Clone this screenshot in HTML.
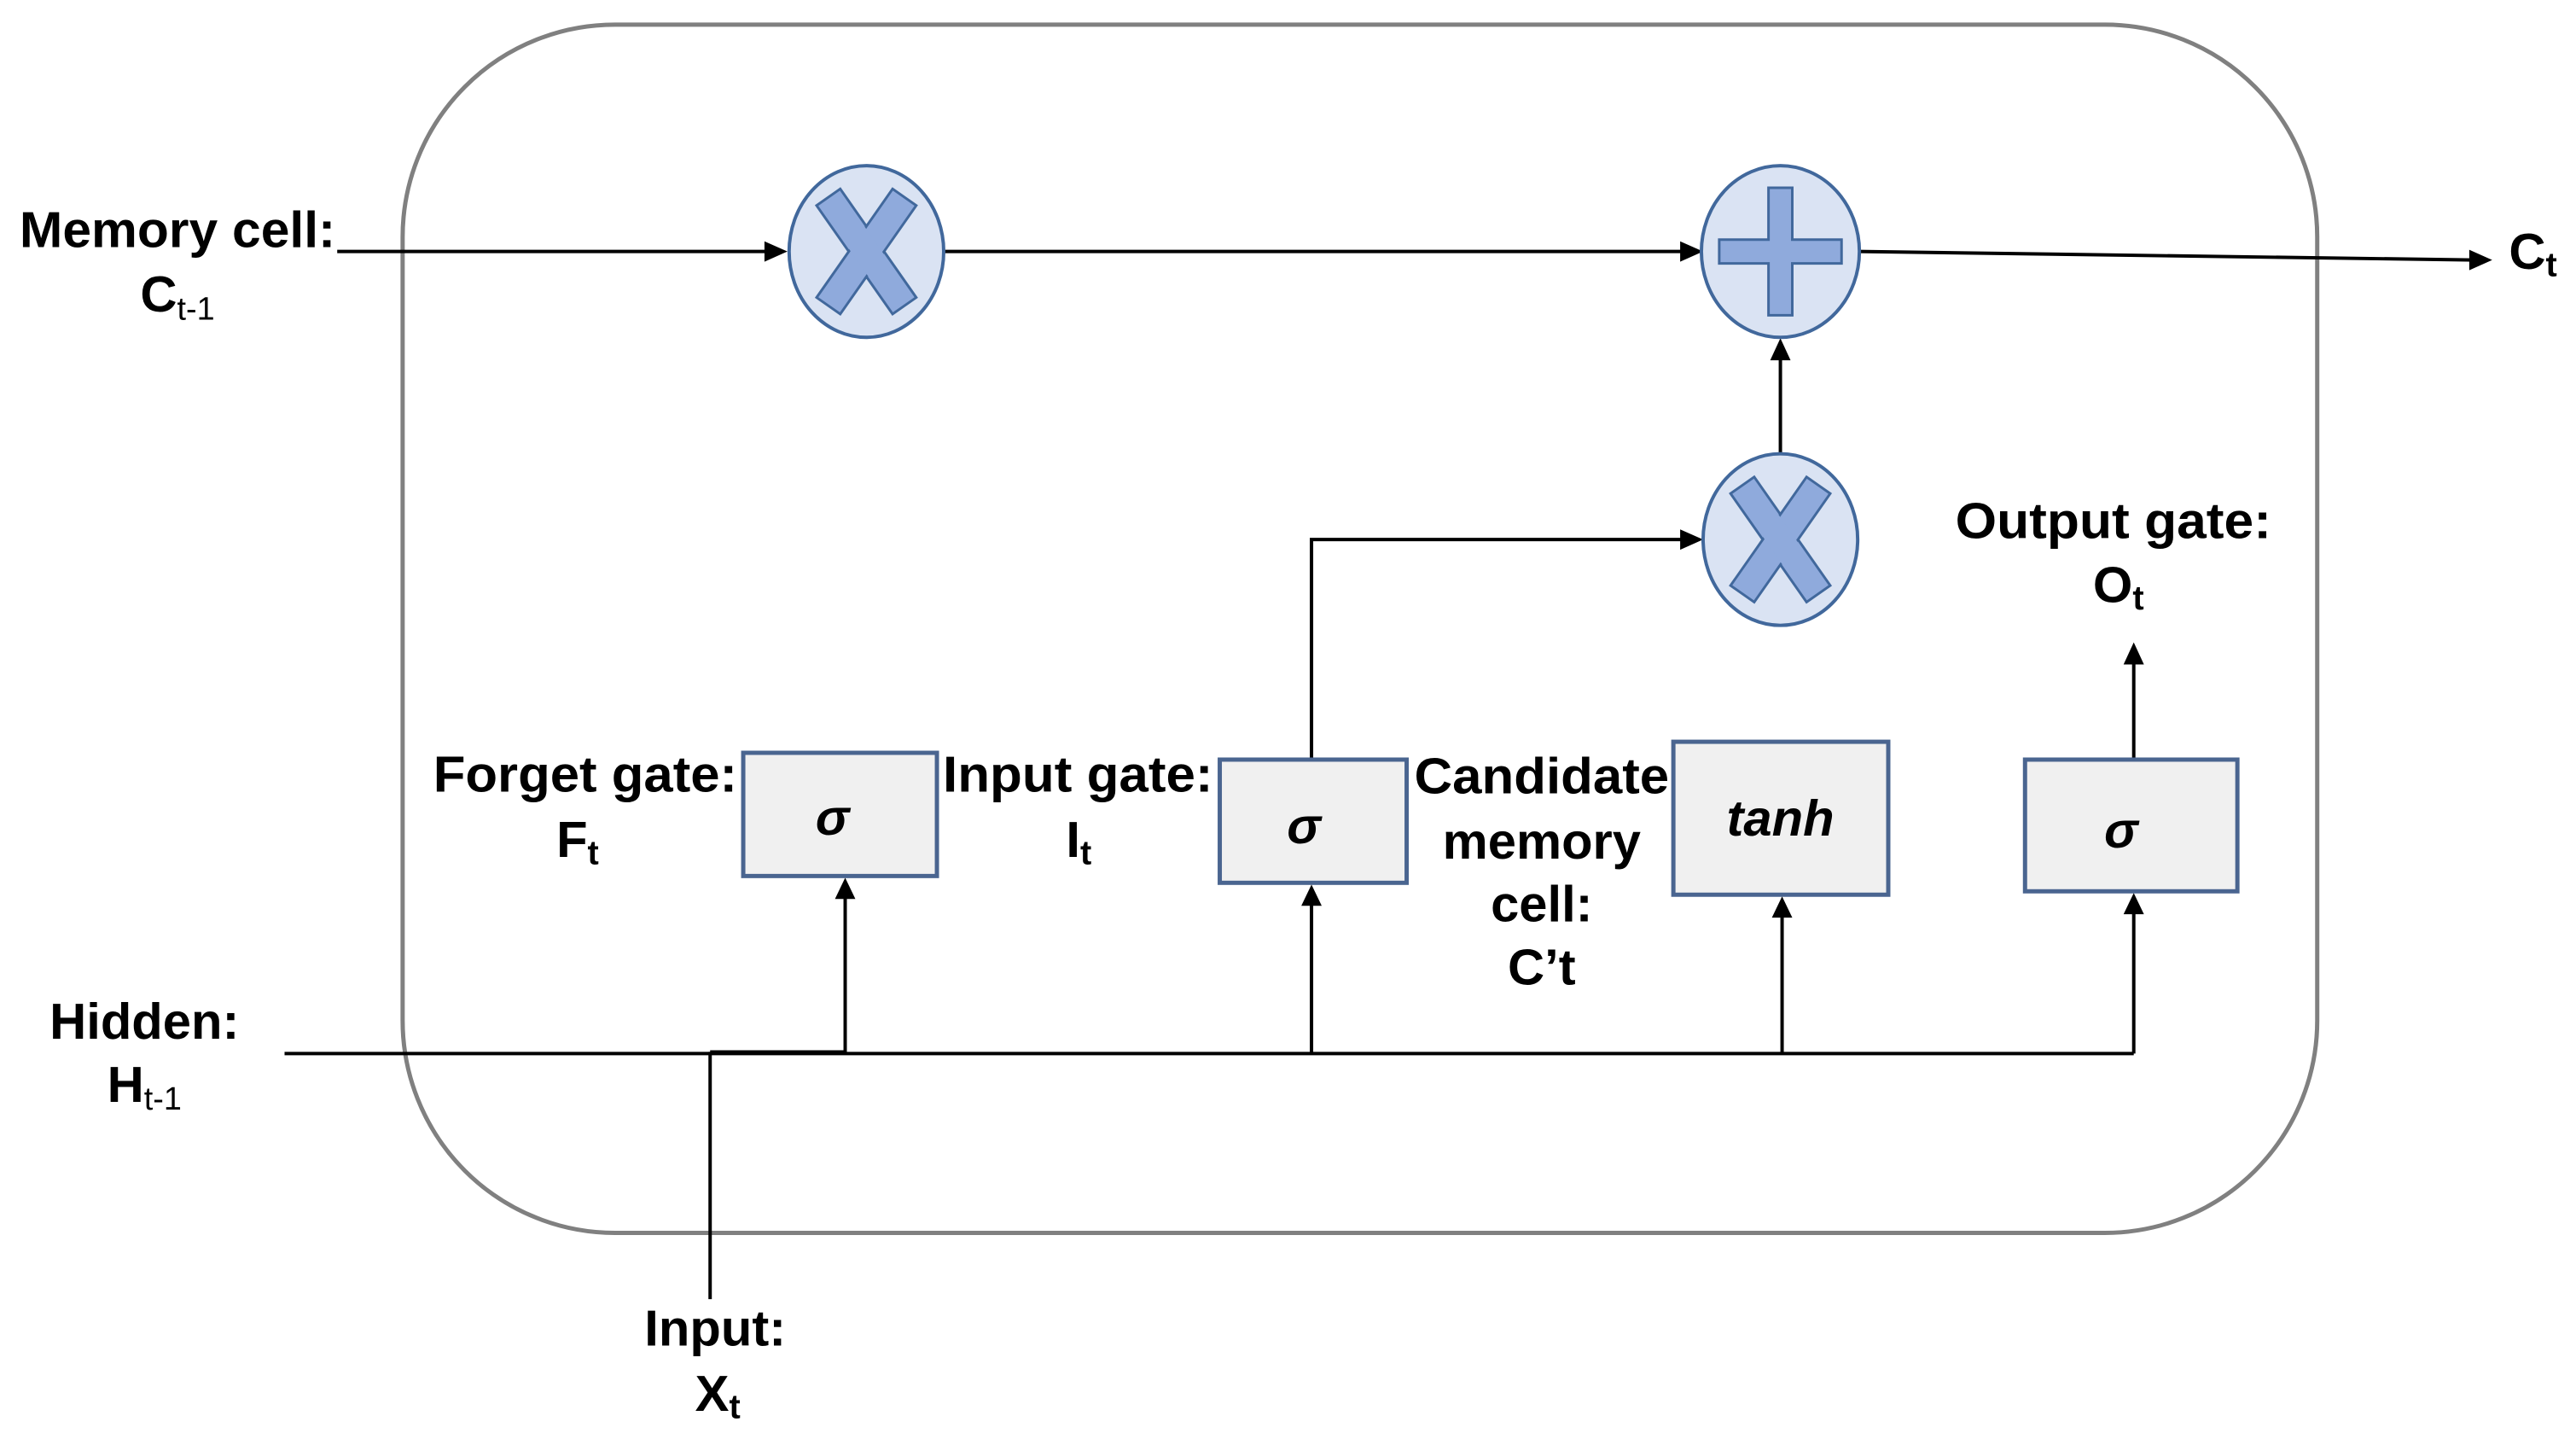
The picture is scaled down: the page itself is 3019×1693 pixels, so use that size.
<!DOCTYPE html>
<html><head><meta charset="utf-8"><style>
html,body{margin:0;padding:0;background:#fff;}
svg{display:block;}
text{font-family:"Liberation Sans",Arial,sans-serif;font-weight:bold;fill:#000;}
</style></head><body>
<svg width="3019" height="1693" viewBox="0 0 3019 1693" xmlns="http://www.w3.org/2000/svg">
<defs>
<g id="x">
<rect x="-78" y="-17" width="156" height="34" transform="rotate(55)" fill="#8faadc" stroke="#41689c" stroke-width="3"/>
<rect x="-78" y="-17" width="156" height="34" transform="rotate(-55)" fill="#8faadc" stroke="#41689c" stroke-width="3"/>
<rect x="-76" y="-15" width="152" height="30" transform="rotate(55)" fill="#8faadc"/>
</g>
</defs>
<g transform="scale(0.9955)">
<rect x="474" y="29" width="2254" height="1422" rx="250" ry="250" fill="none" stroke="#808080" stroke-width="5"/>

<g stroke="#000" stroke-width="4" fill="none">
<line x1="397" y1="296" x2="905" y2="296"/>
<line x1="1112" y1="296" x2="1985" y2="296"/>
<line x1="2188" y1="296" x2="2912" y2="306"/>
<line x1="2096" y1="534" x2="2096" y2="418"/>
<polyline points="1544,894 1544,635 1985,635"/>
<line x1="335" y1="1240" x2="2512" y2="1240"/>
<line x1="836" y1="1238" x2="836" y2="1529"/>
<line x1="836" y1="1238" x2="995" y2="1238"/>
<line x1="995" y1="1240" x2="995" y2="1052"/>
<line x1="1544" y1="1240" x2="1544" y2="1060"/>
<line x1="2098" y1="1240" x2="2098" y2="1074"/>
<line x1="2512" y1="1240" x2="2512" y2="1070"/>
<line x1="2512" y1="894" x2="2512" y2="778"/>
</g>
<g fill="#000">
<polygon points="927,296 900,284 900,308"/>
<polygon points="2005,296 1978,284 1978,308"/>
<polygon points="2934,306 2907,294 2907,318"/>
<polygon points="2096,398 2084,424 2108,424"/>
<polygon points="2005,635 1978,623 1978,647"/>
<polygon points="995,1033 983,1058 1007,1058"/>
<polygon points="1544,1041 1532,1066 1556,1066"/>
<polygon points="2098,1055 2086,1080 2110,1080"/>
<polygon points="2512,1051 2500,1076 2524,1076"/>
<polygon points="2512,756 2500,782 2524,782"/>
</g>

<g stroke="#41689c" stroke-width="4">
<ellipse cx="1020" cy="296" rx="91" ry="101" fill="#dae3f3"/>
<ellipse cx="2096" cy="296" rx="93" ry="101" fill="#dae3f3"/>
<ellipse cx="2096" cy="635" rx="91" ry="101" fill="#dae3f3"/>
</g>
<use href="#x" transform="translate(1020,296)"/>
<use href="#x" transform="translate(2096,635)"/>
<polygon transform="translate(2096,296)" fill="#8faadc" stroke="#41689c" stroke-width="3" points="-14,-75 14,-75 14,-14 72,-14 72,14 14,14 14,75 -14,75 -14,14 -72,14 -72,-14 -14,-14"/>

<g fill="#f0f0f0" stroke="#4a6590" stroke-width="5">
<rect x="875" y="886" width="228" height="145"/>
<rect x="1436" y="894" width="220" height="145"/>
<rect x="1970" y="873" width="253" height="180"/>
<rect x="2384" y="894" width="250" height="155"/>
</g>
<g font-size="60" font-style="italic" text-anchor="middle" dominant-baseline="central">
<text x="980" y="962">σ</text>
<text x="1535" y="972">σ</text>
<text x="2096" y="963">tanh</text>
<text x="2497" y="977">σ</text>
</g>

<g font-size="60" text-anchor="middle" dominant-baseline="central">
<text x="209" y="270" textLength="372" lengthAdjust="spacingAndGlyphs">Memory cell:</text>
<text x="209" y="346">C<tspan font-size="38" font-weight="normal" dy="18">t-1</tspan></text>
<text x="170" y="1202">Hidden:</text>
<text x="170" y="1276">H<tspan font-size="38" font-weight="normal" dy="18">t-1</tspan></text>
<text x="689" y="911" textLength="358" lengthAdjust="spacingAndGlyphs">Forget gate:</text>
<text x="680" y="988">F<tspan font-size="40" dy="16">t</tspan></text>
<text x="1269" y="911" textLength="318" lengthAdjust="spacingAndGlyphs">Input gate:</text>
<text x="1270" y="988">I<tspan font-size="40" dy="16">t</tspan></text>
<text x="1815" y="913" textLength="300" lengthAdjust="spacingAndGlyphs">Candidate</text>
<text x="1815" y="990">memory</text>
<text x="1815" y="1064">cell:</text>
<text x="1815" y="1138">C’t</text>
<text x="2488" y="613" textLength="372" lengthAdjust="spacingAndGlyphs">Output gate:</text>
<text x="2494" y="688">O<tspan font-size="40" dy="16">t</tspan></text>
<text x="842" y="1563">Input:</text>
<text x="845" y="1640">X<tspan font-size="40" dy="16">t</tspan></text>
<text x="2982" y="296">C<tspan font-size="40" dy="16">t</tspan></text>
</g>
</g>
</svg>
</body></html>
